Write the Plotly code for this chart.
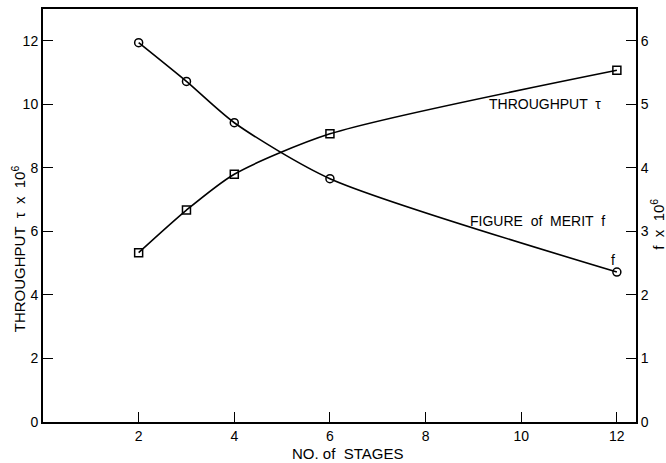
import plotly.graph_objects as go

stages = [2, 3, 4, 6, 12]
throughput = [5.33, 6.67, 7.80, 9.07, 11.07]
merit = [5.97, 5.36, 4.71, 3.83, 2.36]

x_ticks = [2, 4, 6, 8, 10, 12]
x_labels = ["2", "4", "6", "8", "10", "12"]
left_ticks = [0, 2, 4, 6, 8, 10, 12]
left_labels = ["0", "2", "4", "6", "8", "10", "12"]
right_ticks = [0, 1, 2, 3, 4, 5, 6]
right_labels = ["0", "1", "2", "3", "4", "5", "6"]

FONT = "Liberation Sans, Arial, sans-serif"

fig = go.Figure()
fig.add_trace(go.Scatter(
    x=stages, y=throughput, mode="lines+markers", name="THROUGHPUT τ",
    line=dict(color="black", width=1.6, shape="spline", smoothing=0.7),
    marker=dict(symbol="square-open", size=8, color="black", line=dict(width=1.5)),
    yaxis="y"))
fig.add_trace(go.Scatter(
    x=stages, y=merit, mode="lines+markers", name="FIGURE of MERIT f",
    line=dict(color="black", width=1.6, shape="spline", smoothing=0.7),
    marker=dict(symbol="circle-open", size=8, color="black", line=dict(width=1.5)),
    yaxis="y2"))

axis_common = dict(showgrid=False, zeroline=False, showline=True, linecolor="black",
                   linewidth=2, ticks="inside", ticklen=10, tickwidth=1.2,
                   tickcolor="black", tickfont=dict(family=FONT, size=14, color="black"))

fig.update_layout(
    width=666, height=463,
    margin=dict(l=43, r=30, t=7, b=41),
    paper_bgcolor="white", plot_bgcolor="white",
    showlegend=False,
    font=dict(family=FONT, color="black"),
    xaxis=dict(range=[0, 12.4], tickvals=x_ticks, ticktext=x_labels, mirror=True,
               **axis_common),
    yaxis=dict(range=[0, 13], tickvals=left_ticks, ticktext=left_labels, **axis_common),
    yaxis2=dict(range=[0, 6.5], tickvals=right_ticks, ticktext=right_labels,
                overlaying="y", side="right", **axis_common),
    annotations=[
        dict(text="NO. of  STAGES", xref="paper", yref="paper", x=0.514, y=-0.077,
             showarrow=False, xanchor="center", yanchor="middle",
             font=dict(family=FONT, size=15)),
        dict(text="THROUGHPUT  τ  x  10<sup>6</sup>", xref="paper", yref="paper",
             x=-0.041, y=0.42, textangle=-90, showarrow=False,
             xanchor="center", yanchor="middle", font=dict(family=FONT, size=15)),
        dict(text="f  x  10<sup>6</sup>", xref="paper", yref="paper",
             x=1.037, y=0.48, textangle=-90, showarrow=False,
             xanchor="center", yanchor="middle", font=dict(family=FONT, size=15)),
        dict(text="THROUGHPUT  τ", xref="x", yref="y", x=10.5, y=10.0,
             showarrow=False, xanchor="center", yanchor="middle",
             font=dict(family=FONT, size=14)),
        dict(text="FIGURE  of  MERIT  f", xref="x", yref="y", x=10.35, y=6.33,
             showarrow=False, xanchor="center", yanchor="middle",
             font=dict(family=FONT, size=14)),
        dict(text="f", xref="x", yref="y", x=11.92, y=5.1,
             showarrow=False, xanchor="center", yanchor="middle",
             font=dict(family=FONT, size=14)),
    ],
)

fig.write_html("out.html", config={"displayModeBar": False},
               post_script="document.body.style.margin='0';document.body.style.padding='0';")
